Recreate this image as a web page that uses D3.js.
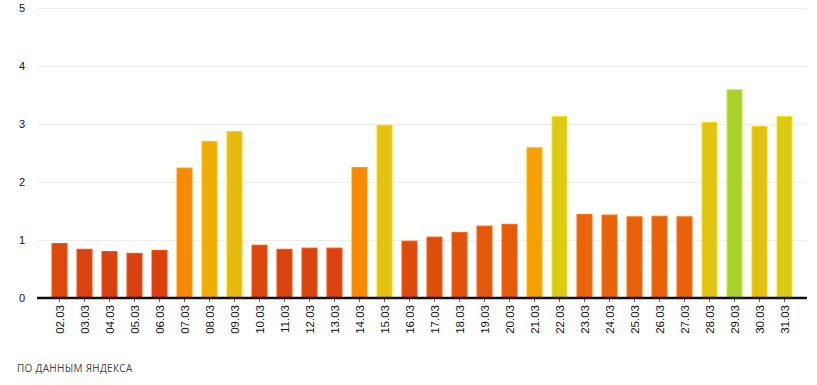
<!DOCTYPE html>
<html>
<head>
<meta charset="utf-8">
<script src="https://cdn.jsdelivr.net/npm/d3@7"></script>
<style>
  body { margin: 0; background: #fff; }
  .note { font-family: "Open Sans", sans-serif; font-size: 10px; fill: #444; letter-spacing: 0.3px; }
  .tick text { font-family: "Liberation Sans", Arial, sans-serif; font-size: 11.5px; fill: #111; }
</style>
</head>
<body>
<svg id="chart" width="817" height="385"></svg>
<script>
////////////////////////////////////////////////////////////////////////////////////
// Data
var days = ["02.03","03.03","04.03","05.03","06.03","07.03","08.03","09.03","10.03","11.03",
            "12.03","13.03","14.03","15.03","16.03","17.03","18.03","19.03","20.03","21.03",
            "22.03","23.03","24.03","25.03","26.03","27.03","28.03","29.03","30.03","31.03"];
var values = [0.94, 0.84, 0.80, 0.77, 0.82, 2.24, 2.70, 2.87, 0.91, 0.84,
              0.86, 0.86, 2.25, 2.98, 0.98, 1.05, 1.13, 1.24, 1.27, 2.59,
              3.13, 1.44, 1.43, 1.40, 1.41, 1.40, 3.03, 3.59, 2.96, 3.13];
var yTicks = [0, 1, 2, 3, 4, 5];

////////////////////////////////////////////////////////////////////////////////////
// Scales
var svg = d3.select("#chart");
var plotLeft = 37, plotRight = 807, plotTop = 8, plotBottom = 298;

var xScale = d3.scaleBand()
               .domain(days)
               .range([47, 797])
               .paddingInner(0.4)
               .paddingOuter(0.2);

var yScale = d3.scaleLinear()
               .domain([0, 5])
               .range([plotBottom, plotTop]);

// colour ramps from red through orange and yellow to green as the value grows
var colorScale = d3.scaleLinear()
                   .domain([0.8, 1.4, 2.25, 2.6, 2.9, 3.13, 3.6])
                   .range(["#d9410e", "#e8620a", "#f78a00", "#f6a200", "#e6bd10", "#dccb12", "#a9d12b"])
                   .clamp(true);

////////////////////////////////////////////////////////////////////////////////////
// Grid + y labels
svg.selectAll(".grid")
   .data(yTicks.filter(function(d) { return d > 0; }))
   .enter()
   .append("line")
   .attr("class", "grid")
   .attr("x1", plotLeft).attr("x2", plotRight)
   .attr("y1", function(d) { return yScale(d) + 0.5; })
   .attr("y2", function(d) { return yScale(d) + 0.5; })
   .style("stroke", "#eeeeee");

svg.selectAll(".ylab")
   .data(yTicks)
   .enter()
   .append("text")
   .attr("class", "ylab")
   .attr("x", 22)
   .attr("y", function(d) { return yScale(d) + 4; })
   .attr("text-anchor", "middle")
   .style("font-family", "Liberation Sans, Arial, sans-serif")
   .style("font-size", "11px")
   .style("fill", "#111")
   .text(function(d) { return d; });

////////////////////////////////////////////////////////////////////////////////////
// Bars
svg.selectAll(".bar")
   .data(values)
   .enter()
   .append("rect")
   .attr("class", "bar")
   .attr("x", function(d, i) { return xScale(days[i]); })
   .attr("width", xScale.bandwidth())
   .attr("y", function(d) { return yScale(d); })
   .attr("height", function(d) { return plotBottom - yScale(d); })
   .style("fill", function(d) { return colorScale(d); })
   .style("stroke", function(d) { return d3.color(colorScale(d)).brighter(0.35); })
   .style("stroke-width", 1);

////////////////////////////////////////////////////////////////////////////////////
// X axis
var xAxis = svg.append("g")
               .attr("transform", "translate(0," + plotBottom + ")")
               .call(d3.axisBottom(xScale).tickSize(4).tickSizeOuter(0));
xAxis.select(".domain").remove();
xAxis.selectAll(".tick line").style("stroke", "#666");
xAxis.selectAll(".tick text")
     .attr("transform", "rotate(-90)")
     .attr("text-anchor", "end")
     .attr("x", -7)
     .attr("y", 0)
     .attr("dy", "0.35em");

svg.append("line")
   .attr("x1", plotLeft).attr("x2", plotRight)
   .attr("y1", plotBottom).attr("y2", plotBottom)
   .style("stroke", "#111")
   .style("stroke-width", 2.5);

////////////////////////////////////////////////////////////////////////////////////
// Source note
svg.append("text")
   .attr("class", "note")
   .attr("x", 17)
   .attr("y", 372)
   .text("ПО ДАННЫМ ЯНДЕКСА");
</script>
</body>
</html>
